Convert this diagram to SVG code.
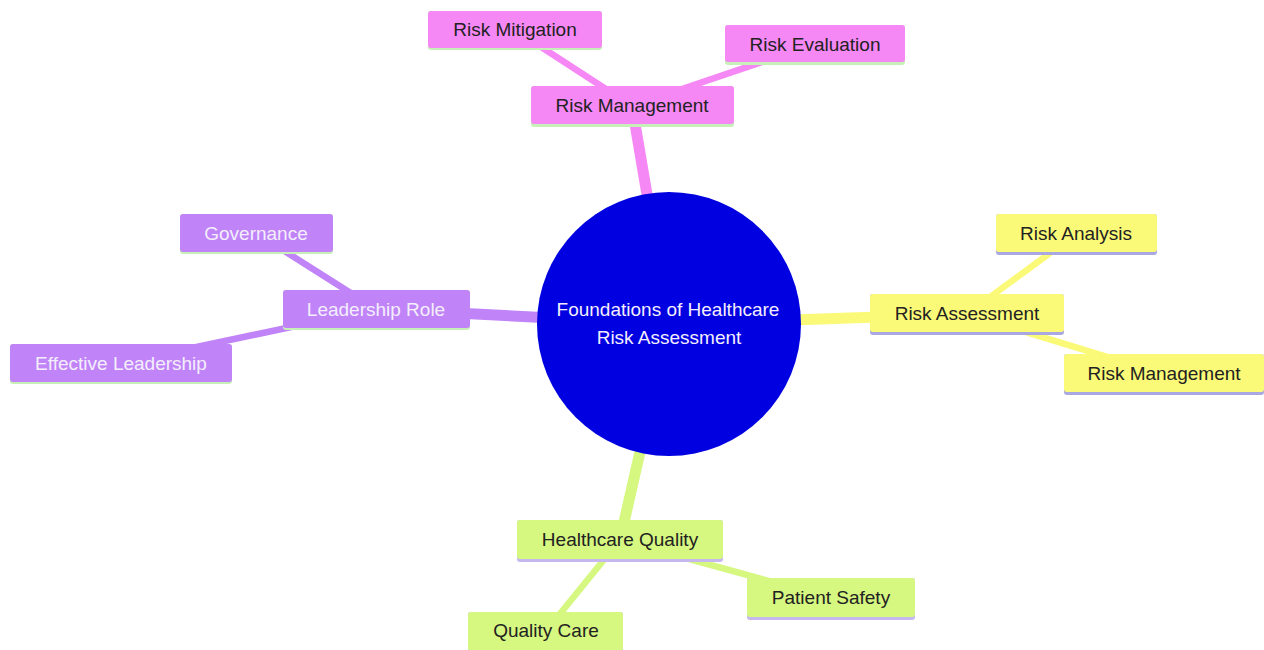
<svg xmlns="http://www.w3.org/2000/svg" width="1264" height="650" viewBox="0 0 1264 650">
<style>
text{font-family:"Liberation Sans",Arial,sans-serif;font-size:19px;text-anchor:middle}
.e0{stroke-width:11;stroke-linecap:butt;fill:none}
.e1{stroke-width:6.5;stroke-linecap:butt;fill:none}
.pink{fill:#f688f5}.pinkS{stroke:#f688f5}
.purp{fill:#c084f8}.purpS{stroke:#c084f8}
.yel{fill:#fbfa78}.yelS{stroke:#fbfa78}
.grn{fill:#d6f780}.grnS{stroke:#d6f780}
.lg{fill:#c6f0b8}.lv{fill:#aaa8e2}.lv2{fill:#c6b8ee}
.dark{fill:#222}.light{fill:#f4eefc}
</style>
<rect width="1264" height="650" fill="#ffffff"/>
<g id="connectors">
<line class="e0 pinkS" x1="669" y1="324" x2="632" y2="106"/>
<line class="e1 pinkS" x1="632" y1="106" x2="515" y2="30"/>
<line class="e1 pinkS" x1="632" y1="106" x2="815" y2="44"/>
<line class="e0 purpS" x1="669" y1="324" x2="376" y2="309"/>
<line class="e1 purpS" x1="376" y1="309" x2="256" y2="233"/>
<line class="e1 purpS" x1="376" y1="309" x2="121" y2="363"/>
<line class="e0 yelS" x1="669" y1="324" x2="967" y2="314"/>
<line class="e1 yelS" x1="967" y1="314" x2="1076" y2="234"/>
<line class="e1 yelS" x1="967" y1="314" x2="1163" y2="374"/>
<line class="e0 grnS" x1="669" y1="324" x2="620" y2="540"/>
<line class="e1 grnS" x1="620" y1="540" x2="831" y2="598"/>
<line class="e1 grnS" x1="620" y1="540" x2="546" y2="631"/>
</g>
<g id="root">
<circle cx="669" cy="324" r="132" fill="#0000e0"/>
<text class="light" x="668" y="316">Foundations of Healthcare</text>
<text class="light" x="669" y="344">Risk Assessment</text>
</g>
<g id="risk-management">
<rect class="lg" x="531" y="86" width="203" height="41" rx="3"/>
<rect class="pink" x="531" y="86" width="203" height="38" rx="3"/>
<text class="dark" x="632" y="112">Risk Management</text>
</g>
<g id="risk-mitigation">
<rect class="lg" x="428" y="11" width="174" height="39" rx="3"/>
<rect class="pink" x="428" y="11" width="174" height="37" rx="3"/>
<text class="dark" x="515" y="36">Risk Mitigation</text>
</g>
<g id="risk-evaluation">
<rect class="lg" x="725" y="25" width="180" height="40" rx="3"/>
<rect class="pink" x="725" y="25" width="180" height="37" rx="3"/>
<text class="dark" x="815" y="51">Risk Evaluation</text>
</g>
<g id="leadership-role">
<rect class="lg" x="283" y="290" width="187" height="40" rx="3"/>
<rect class="purp" x="283" y="290" width="187" height="38" rx="3"/>
<text class="light" x="376" y="316">Leadership Role</text>
</g>
<g id="governance">
<rect class="lg" x="180" y="214" width="153" height="40" rx="3"/>
<rect class="purp" x="180" y="214" width="153" height="38" rx="3"/>
<text class="light" x="256" y="240">Governance</text>
</g>
<g id="effective-leadership">
<rect class="lg" x="10" y="344" width="222" height="40" rx="3"/>
<rect class="purp" x="10" y="344" width="222" height="38" rx="3"/>
<text class="light" x="121" y="370">Effective Leadership</text>
</g>
<g id="risk-assessment">
<rect class="lv" x="870" y="294" width="194" height="41" rx="3"/>
<rect class="yel" x="870" y="294" width="194" height="38" rx="3"/>
<text class="dark" x="967" y="320">Risk Assessment</text>
</g>
<g id="risk-analysis">
<rect class="lv" x="996" y="214" width="161" height="41" rx="3"/>
<rect class="yel" x="996" y="214" width="161" height="38" rx="3"/>
<text class="dark" x="1076" y="240">Risk Analysis</text>
</g>
<g id="risk-management-2">
<rect class="lv" x="1064" y="354" width="200" height="41" rx="3"/>
<rect class="yel" x="1064" y="354" width="200" height="38" rx="3"/>
<text class="dark" x="1164" y="380">Risk Management</text>
</g>
<g id="healthcare-quality">
<rect class="lv2" x="517" y="520" width="206" height="42" rx="3"/>
<rect class="grn" x="517" y="520" width="206" height="39" rx="3"/>
<text class="dark" x="620" y="546">Healthcare Quality</text>
</g>
<g id="patient-safety">
<rect class="lv2" x="747" y="578" width="168" height="42" rx="3"/>
<rect class="grn" x="747" y="578" width="168" height="39" rx="3"/>
<text class="dark" x="831" y="604">Patient Safety</text>
</g>
<g id="quality-care">
<rect class="lv2" x="468" y="612" width="155" height="42" rx="3"/>
<rect class="grn" x="468" y="612" width="155" height="39" rx="3"/>
<text class="dark" x="546" y="637">Quality Care</text>
</g>
</svg>
